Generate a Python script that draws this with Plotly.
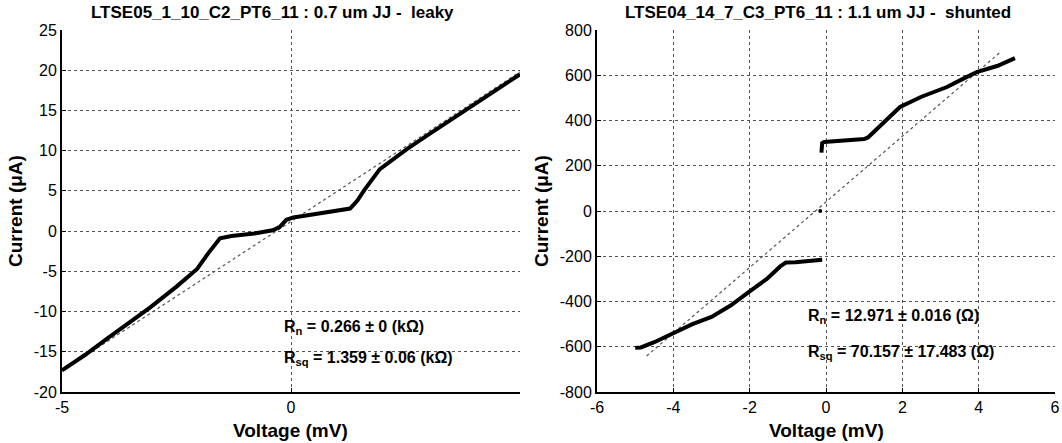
import plotly.graph_objects as go

# ---------------- data ----------------
# Left panel: LTSE05 leaky junction (voltage in mV, current in uA)
left_v = [-5.0, -4.5, -4.0, -3.5, -3.08, -2.5, -2.05, -1.8, -1.55, -1.3, -0.8, -0.4,
          -0.25, -0.1, 0.05, 0.4, 0.9, 1.29, 1.45, 1.6, 1.94, 2.3, 2.53, 3.0, 3.5,
          4.0, 4.5, 5.0]
left_i = [-17.3, -15.4, -13.3, -11.3, -9.5, -6.9, -4.7, -2.7, -0.9, -0.6, -0.3, 0.1,
          0.5, 1.4, 1.7, 2.0, 2.4, 2.8, 3.8, 5.1, 7.7, 9.2, 10.2, 12.0, 13.9,
          15.8, 17.6, 19.5]
left_fit_v = [-5.0, 5.0]
left_fit_i = [-17.4, 19.8]

# Right panel: LTSE04 shunted junction
neg_v = [-5.0, -4.85, -4.5, -4.0, -3.5, -3.0, -2.5, -2.0, -1.55, -1.2, -1.05, -0.8, -0.5, -0.1]
neg_i = [-605, -603, -580, -540, -500, -468, -418, -355, -300, -245, -228, -226, -222, -215]
pos_v = [-0.12, -0.1, -0.05, 0.2, 0.6, 1.0, 1.1, 1.5, 1.94, 2.5, 3.17, 3.6, 3.95, 4.5, 4.95]
pos_i = [258, 300, 305, 308, 312, 318, 325, 390, 460, 505, 548, 585, 614, 642, 676]
right_fit_v = [-4.7, 4.6]
right_fit_i = [-641, 707]
stray_v = [-0.15]
stray_i = [0]

left_title = "LTSE05_1_10_C2_PT6_11 : 0.7 um JJ -  leaky"
right_title = "LTSE04_14_7_C3_PT6_11 : 1.1 um JJ -  shunted"
left_notes = ["R<sub>n</sub> = 0.266 ± 0 (kΩ)", "R<sub>sq</sub> = 1.359 ± 0.06 (kΩ)"]
right_notes = ["R<sub>n</sub> = 12.971 ± 0.016 (Ω)", "R<sub>sq</sub> = 70.157 ± 17.483 (Ω)"]

left_xticks = [-5, 0]
left_xlabels = ["-5", "0"]
left_yticks = [-20, -15, -10, -5, 0, 5, 10, 15, 20, 25]
left_ylabels = ["-20", "-15", "-10", "-5", "0", "5", "10", "15", "20", "25"]
right_xticks = [-6, -4, -2, 0, 2, 4, 6]
right_xlabels = ["-6", "-4", "-2", "0", "2", "4", "6"]
right_yticks = [-800, -600, -400, -200, 0, 200, 400, 600, 800]
right_ylabels = ["-800", "-600", "-400", "-200", "0", "200", "400", "600", "800"]

# ---------------- layout helpers ----------------
W, H = 1062, 443
def px(x):
    return x / W
def py(y):
    return 1 - y / H

FONT = "Arial, Liberation Sans, sans-serif"
curve_style = dict(color="black", width=4)
fit_style = dict(color="#555555", width=1.2, dash="dot")

fig = go.Figure()
fig.add_trace(go.Scatter(x=left_fit_v, y=left_fit_i, mode="lines", line=fit_style,
                         xaxis="x", yaxis="y", showlegend=False))
fig.add_trace(go.Scatter(x=left_v, y=left_i, mode="lines", line=curve_style,
                         xaxis="x", yaxis="y", showlegend=False))
fig.add_trace(go.Scatter(x=right_fit_v, y=right_fit_i, mode="lines", line=fit_style,
                         xaxis="x2", yaxis="y2", showlegend=False))
fig.add_trace(go.Scatter(x=neg_v, y=neg_i, mode="lines", line=curve_style,
                         xaxis="x2", yaxis="y2", showlegend=False))
fig.add_trace(go.Scatter(x=pos_v, y=pos_i, mode="lines", line=curve_style,
                         xaxis="x2", yaxis="y2", showlegend=False))
fig.add_trace(go.Scatter(x=stray_v, y=stray_i, mode="markers",
                         marker=dict(color="black", size=4),
                         xaxis="x2", yaxis="y2", showlegend=False))

axis_common = dict(
    showline=True, linecolor="black", linewidth=2, mirror=False,
    showgrid=True, gridcolor="#555555", gridwidth=1, griddash="dot",
    zeroline=False, ticks="inside", ticklen=4, tickcolor="black",
    automargin=False,
    tickfont=dict(family=FONT, size=16, color="black"),
)

ydom = [py(392), py(30)]
fig.update_layout(
    template="none",
    width=W, height=H,
    margin=dict(l=0, r=0, t=0, b=0, pad=0),
    paper_bgcolor="white", plot_bgcolor="white",
    font=dict(family=FONT, color="black"),
    showlegend=False,
    xaxis=dict(domain=[px(62), px(520)], range=[-5, 5], tickvals=left_xticks,
               ticktext=left_xlabels, anchor="y", **axis_common),
    yaxis=dict(domain=ydom, range=[-20, 25], tickvals=left_yticks,
               ticktext=left_ylabels, anchor="x", **axis_common),
    xaxis2=dict(domain=[px(597), px(1055)], range=[-6, 6], tickvals=right_xticks,
                ticktext=right_xlabels, anchor="y2", **axis_common),
    yaxis2=dict(domain=ydom, range=[-800, 800], tickvals=right_yticks,
                ticktext=right_ylabels, anchor="x2", **axis_common),
)

ann = []
bold = lambda s: "<b>" + s + "</b>"
def add(text, x, y, size, xanchor="center", angle=0):
    ann.append(dict(text=bold(text), x=px(x), y=py(y), xref="paper", yref="paper",
                    xanchor=xanchor, yanchor="middle", showarrow=False, textangle=angle,
                    font=dict(family=FONT, size=size, color="black")))

# titles
add(left_title, 272, 12, 17)
add(right_title, 818, 12, 17)
# axis titles
add("Voltage (mV)", 291, 430, 19)
add("Voltage (mV)", 826, 430, 19)
add("Current (μA)", 15, 211, 19, angle=-90)
add("Current (μA)", 541, 211, 19, angle=-90)
# fit notes
for txt, y0 in zip(left_notes, [327, 358]):
    add(txt, 282, y0, 16, xanchor="left")
for txt, y0 in zip(right_notes, [316, 352]):
    add(txt, 806, y0, 16, xanchor="left")
fig.update_layout(annotations=ann)

fig.write_html("out.html")
